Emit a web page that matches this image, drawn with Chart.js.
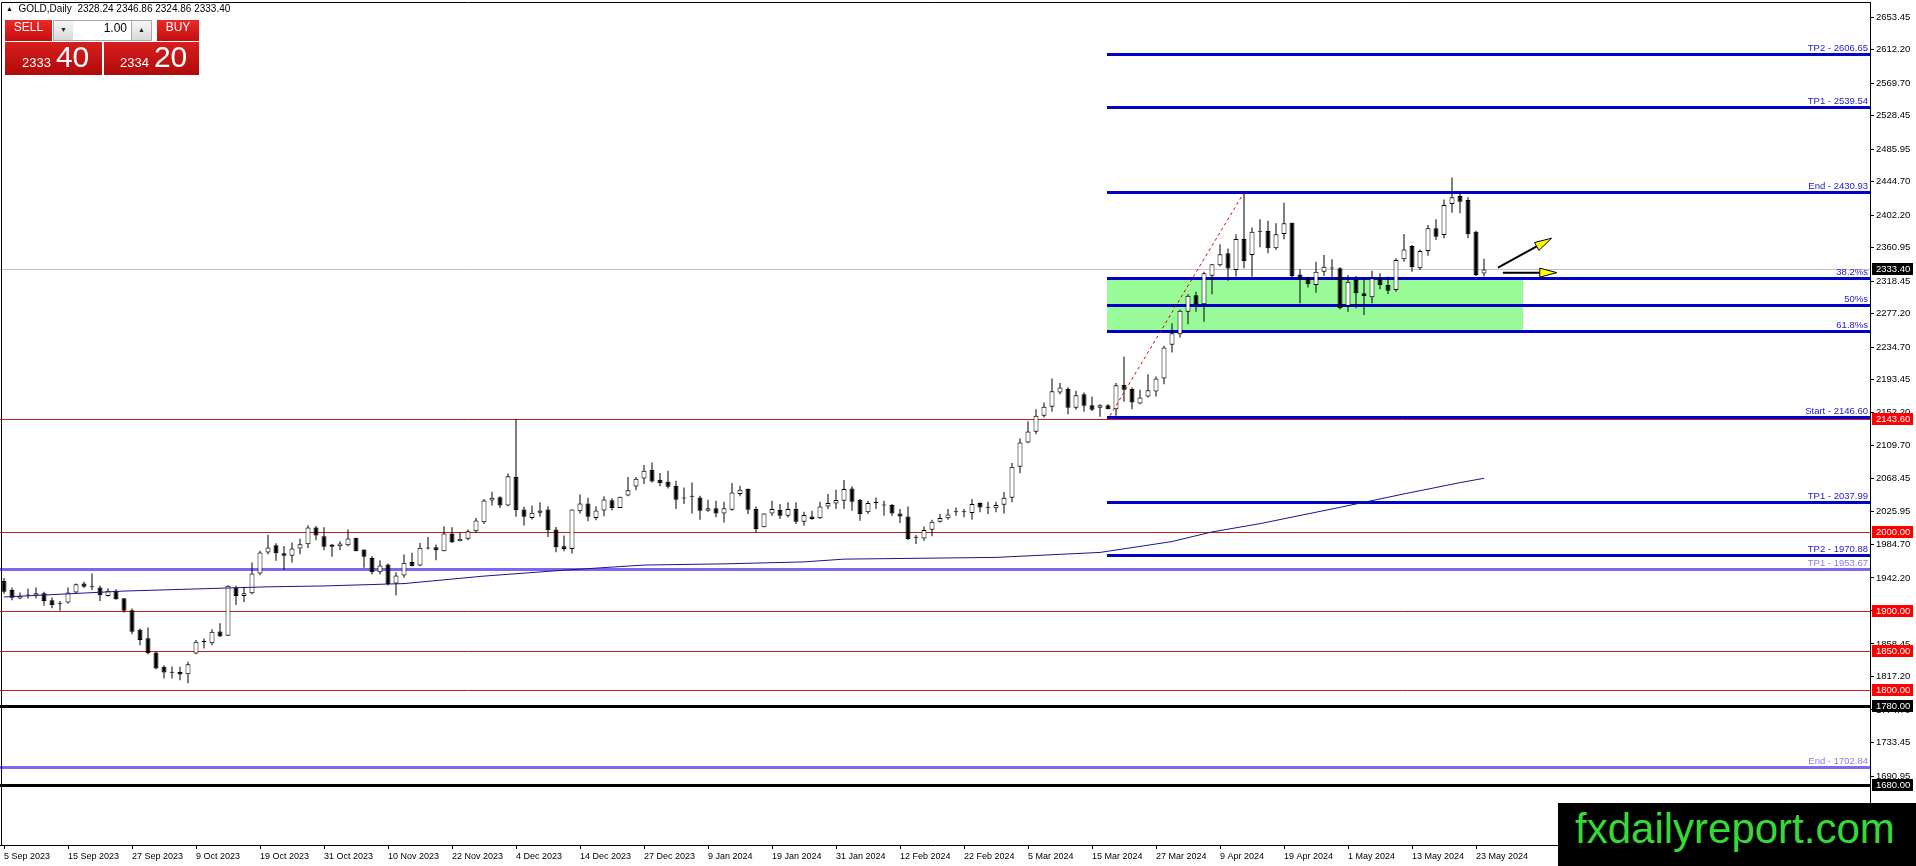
<!DOCTYPE html>
<html>
<head>
<meta charset="utf-8">
<script src="https://cdn.jsdelivr.net/npm/chart.js@4.4.1/dist/chart.umd.min.js"></script>
<style>
html, body { margin: 0; padding: 0; background: #fff; overflow: hidden; }
#wrap { position: relative; width: 1916px; height: 866px; }
#wrap canvas { position: absolute; left: 0; top: 0; }
.title { position: absolute; left: 6px; top: 3px; font: 10px "Liberation Sans", Arial, sans-serif; color: #000; white-space: pre; }
.title .tri { font-size: 7px; vertical-align: 1px; }
.btn { position: absolute; top: 20px; height: 21px; line-height: 21px; text-align: center; color: #fff;
  font: 12px "Liberation Sans", Arial, sans-serif; background: linear-gradient(#ea2a2a, #c50d0d); }
.spin { position: absolute; top: 20px; width: 19px; height: 19px; line-height: 19px; text-align: center; font-size: 7px;
  color: #222; background: linear-gradient(#f6f6f6, #d9d9d9); border: 1px solid #a8a8a8; box-sizing: content-box; }
.qty { position: absolute; left: 73px; top: 20px; width: 54px; height: 19px; line-height: 19px; padding-right: 5px; text-align: right;
  font: 12px "Liberation Sans", Arial, sans-serif; background: #fff; border-top: 1px solid #a8a8a8; border-bottom: 1px solid #a8a8a8; }
.big { position: absolute; top: 42px; height: 33px; display: flex; align-items: baseline; box-sizing: border-box;
  color: #fff; font-family: "Liberation Sans", Arial, sans-serif; background: linear-gradient(#d81e1e, #b00a0a); }
.big .s { font-size: 13px; line-height: 1; }
.big .b { font-size: 30px; line-height: 1; margin-left: 5px; }
.mark { position: absolute; left: 1558px; top: 803px; width: 358px; height: 63px; background: #000; box-sizing: border-box;
  padding-left: 17px; color: #36d936; font: 42px/51px "Liberation Sans", Arial, sans-serif; }
</style>
</head>
<body>
<div id="wrap">
  <canvas id="chart"></canvas>
  <div class="title"><span class="tri">▲</span>  GOLD,Daily  2328.24 2346.86 2324.86 2333.40</div>
  <div class="btn" style="left:5px;width:47px">SELL</div>
  <div class="spin" style="left:53px">▼</div>
  <div class="qty">1.00</div>
  <div class="spin" style="left:131px">▲</div>
  <div class="btn" style="left:157px;width:42px">BUY</div>
  <div class="big" style="left:5px;width:97px;padding-left:17px"><span class="s">2333</span><span class="b">40</span></div>
  <div class="big" style="left:104px;width:95px;padding-left:16px"><span class="s">2334</span><span class="b">20</span></div>
  <div class="mark">fxdailyreport.com</div>
</div>
<script>
// daily bars, 5 Sep 2023 .. 24 May 2024
var opens = [
  1938.5,1927,1916,1920,1919.5,1922.8,1914,1909.5,1911,1923.7,
  1935,1931,1930,1919.4,1925.8,1916.5,1901.3,1876.3,1865.8,1847.6,
  1829.4,1821.8,1823,1820.1,1846.3,1861,1859.4,1874.2,1868.7,1930,
  1919.4,1922.8,1947.8,1974.4,1983.7,1973.5,1970.2,1979.5,1985,2006,
  1995.1,1984.5,1982.4,1983.7,1993,1978.2,1967.6,1949.4,1959.1,1935.1,
  1945.2,1962.5,1957.9,1979.5,1981.2,1976.1,1998.5,1988.8,1991.7,2001.4,
  2012.8,2040.3,2044.5,2034,2070.3,2028.9,2018.3,2024.7,2028.9,2003.5,
  1982.4,1979,2026.8,2036.5,2018.3,2027.6,2040.8,2031,2046.7,2058,
  2068.4,2079.4,2066.7,2064.2,2059.1,2043,2045,2044.3,2027.4,2030.4,
  2024,2028.7,2048.5,2054.9,2029.5,2006.3,2024,2028.3,2021.1,2029.5,
  2013.5,2020.2,2017.7,2032.9,2036.7,2040.1,2055.7,2041.4,2025.3,2037.1,
  2034.6,2034.6,2024,2020.2,1993.6,1992.3,2003.3,2013.5,2017.7,2025.3,
  2025.3,2024.4,2037.1,2031.6,2030.4,2035,2044,2083,2114,2127.4,
  2147.7,2159.1,2177.3,2181.6,2157.9,2175.2,2161.3,2157.9,2161.3,2156.2,
  2187.1,2181.6,2163.4,2172.3,2178.6,2195,2237.8,2251.3,2279.6,2300.7,
  2289.3,2325.3,2338.8,2354,2332.6,2372,2351.7,2381,2382.1,2360.1,
  2378.3,2392.6,2327.1,2322.1,2313.6,2330.5,2334.8,2334.8,2287,2320,
  2303.1,2298,2322.1,2313.6,2307.3,2346.2,2363.1,2334.8,2356.7,2385.5,
  2377,2416.4,2426.5,2421.4,2381.2,2328.24
];
var highs = [
  1942,1930,1923.7,1928.7,1930,1924.5,1917.3,1913,1930,1935,
  1937.2,1947.8,1932.1,1929.2,1927.9,1916.5,1903.4,1878,1879.3,1848.4,
  1831.5,1829.8,1829.4,1835.8,1863.6,1865.3,1877.2,1884.8,1933,1932.1,
  1930.9,1961.7,1976.5,1997,1986.2,1982.8,1987.1,1992,2009,2008,
  2006.5,1985,1988.8,2003.5,1993,1978.2,1969.7,1964.6,1960.4,1949.4,
  1971.8,1974,1986.6,1994.2,1984.5,2007.8,2006.5,1999.3,2003.5,2018.3,
  2042.4,2051.3,2045.8,2074.6,2143.6,2032.3,2034,2038.2,2033.2,2006.9,
  1995.9,2028.9,2048,2043.7,2033.2,2045.8,2043.3,2045,2070.3,2070.3,
  2085.3,2088.7,2075.2,2078.1,2065.4,2057,2063.3,2046.4,2041.4,2040.1,
  2038.8,2062.5,2059.1,2055.7,2032.9,2024,2040.1,2035.9,2038,2038,
  2026.1,2027.4,2038.8,2048.5,2054,2066.3,2058.3,2042.2,2040.1,2044.3,
  2040.1,2035.9,2029.5,2032.9,1996.5,2007.5,2016,2023.2,2029.5,2031.6,
  2029.5,2042.2,2037.9,2038.8,2038.8,2051,2088,2119,2141,2156.2,
  2164.6,2195,2189.2,2183.7,2179.4,2177.3,2172.3,2162.5,2162.5,2189.2,
  2223,2183.7,2180.7,2200.6,2197.6,2236.5,2265.2,2282.2,2302,2305,
  2330.3,2340.1,2365.4,2360,2378,2430.93,2386.7,2396.9,2395.2,2391.8,
  2418,2392.6,2333.5,2324.2,2343.2,2351.7,2346.2,2336,2326.3,2325,
  2320,2331.8,2328.4,2324.2,2347.4,2378.3,2364.4,2358.8,2389.7,2396.9,
  2422.2,2450.1,2432,2424.8,2382.5,2346.86
];
var lows = [
  1922,1914,1915,1916,1916,1906.8,1903.8,1900.4,1909.7,1922.8,
  1929.6,1927,1913,1918.6,1914.4,1898.3,1870.8,1856.9,1845.5,1826.4,
  1814.6,1814.6,1812.5,1808.7,1845.5,1852.7,1856.9,1867.5,1868.7,1908,
  1911.8,1921.5,1945.6,1972.3,1963.8,1952.4,1961.7,1972.3,1980,1990,
  1977.3,1968.9,1977.3,1982.4,1976.1,1955,1946.5,1946.5,1932.5,1919.8,
  1942.3,1957.1,1957.1,1978.2,1964.6,1976.1,1986.6,1988.8,1990,1999.3,
  2010.7,2034,2031,2033.2,2019.6,2008.6,2016.2,2019.6,1994.2,1974.8,
  1976.1,1973.1,2023.8,2014.1,2015.4,2020.5,2027.6,2031,2045.8,2053.4,
  2061.2,2063.3,2058.3,2055.7,2029.5,2035.9,2024,2016,2026.1,2019,
  2012.6,2027.4,2045.6,2023.2,1999.9,2006.3,2021.1,2016.8,2018.9,2010.5,
  2008.4,2016,2016.8,2029.5,2029.5,2029.5,2027.4,2014.7,2023.2,2029.5,
  2021.1,2021.1,2011.8,1990.6,1985.1,1989.4,1994.9,2012.6,2016,2021.1,
  2019,2016,2025.3,2023.2,2025.3,2024,2038,2075,2113,2124.5,
  2145.6,2152.8,2175.2,2149.8,2155.3,2152.8,2154,2146.6,2156.2,2147.7,
  2165.5,2156.2,2162.5,2171,2172.3,2187.9,2228,2247.1,2264,2279.6,
  2266.9,2302,2337.1,2318.9,2324.4,2335,2324.2,2361.4,2353.8,2358,
  2371.5,2323,2290.4,2310.6,2303.9,2325,2320.8,2283,2279.8,2284.1,
  2275.6,2290.4,2308.1,2302.2,2305.2,2343.2,2330.5,2332.6,2350.8,2370.7,
  2372.8,2405.3,2404.5,2372.8,2325,2324.86
];
var closes = [
  1924.5,1917,1919.5,1920.5,1922.8,1913,1908,1910,1923.7,1934.2,
  1930.9,1930.5,1920.3,1925.8,1915.2,1900.4,1873.8,1863.6,1846.7,1827.3,
  1822.2,1822,1819.7,1832.8,1861.1,1861.5,1873.8,1867.9,1932.1,1919.4,
  1922.8,1947.8,1974.4,1980.7,1973.5,1970.2,1979.5,1985,2006,1996,
  1981.6,1981.6,1985.8,1992.1,1976.1,1968.9,1949.4,1957.9,1934.6,1945.2,
  1961.3,1957.1,1980.3,1979.9,1977.3,1998.5,1987.5,1991.7,2001.4,2015,
  2040.3,2043.7,2034,2071.2,2028.1,2019.6,2024.7,2027.6,2002.7,1981.2,
  1979,2028.9,2036.5,2019.6,2027.6,2041.6,2031,2045,2053.4,2067.8,
  2078.1,2064.6,2062.1,2057.8,2041.4,2043.2,2045.3,2027.4,2030.4,2024,
  2030.4,2050.6,2054,2028.7,2004.1,2024,2029.5,2021.1,2029.5,2013.5,
  2021.9,2016.8,2032.9,2037.1,2040.9,2054.9,2038.8,2023.2,2037.1,2037.5,
  2034.1,2024,2020.2,1991.5,1993.2,2002.9,2013.5,2018.1,2022.7,2025.7,
  2025.7,2035.9,2031.6,2031.2,2034.6,2044,2083,2114,2128,2147.7,
  2159.1,2179,2183.7,2157.9,2173.9,2160.4,2155.3,2161.3,2156.2,2186.6,
  2180.7,2164.6,2171,2180.3,2195,2234.4,2252.5,2280.9,2299.9,2289.3,
  2328.6,2340.1,2352.7,2334.6,2372,2344,2381.2,2381.4,2360.1,2377.9,
  2391.8,2325,2320.8,2314.5,2330.5,2336.9,2334.4,2284.1,2317.9,2303.1,
  2299.7,2322.1,2313.6,2306.4,2345.3,2358.8,2336,2356.7,2385.5,2374.9,
  2415.1,2424.8,2419.3,2377.9,2326.3,2333.40
];

// moving average, read at a few bars
var maBars   = [0, 15, 25, 33, 40, 50, 60, 70, 80, 90, 100, 105, 124, 137, 146, 151, 157, 167, 175, 182, 185];
var maValues = [1918, 1925.5, 1928.5, 1930.9, 1932, 1935, 1944.5, 1952, 1958.5, 1960, 1962.5, 1966, 1968.2, 1974.5, 1988.3, 2000.5, 2011, 2031.7, 2048.7, 2063, 2068.5];

var tickDates = ['5 Sep 2023','15 Sep 2023','27 Sep 2023','9 Oct 2023','19 Oct 2023','31 Oct 2023','10 Nov 2023',
  '22 Nov 2023','4 Dec 2023','14 Dec 2023','27 Dec 2023','9 Jan 2024','19 Jan 2024','31 Jan 2024','12 Feb 2024',
  '22 Feb 2024','5 Mar 2024','15 Mar 2024','27 Mar 2024','9 Apr 2024','19 Apr 2024','1 May 2024','13 May 2024','23 May 2024'];
var priceTicks = [2653.45,2612.20,2569.70,2528.45,2485.95,2444.70,2402.20,2360.95,2318.45,2277.20,2234.70,2193.45,
  2152.20,2109.70,2068.45,2025.95,1984.70,1942.20,1900.95,1858.45,1817.20,1774.70,1733.45,1690.95];

// drawn levels
var planNames  = ['TP2', 'TP1', 'End', 'Start', 'TP1', 'TP2'];
var planLevels = [2606.65, 2539.54, 2430.93, 2146.60, 2037.99, 1970.88];
var fibNames   = ['38.2%s', '50%s', '61.8%s'];
var fibRatios  = [0.382, 0.5, 0.618];
var oldNames   = ['TP1', 'End'];
var oldLevels  = [1953.67, 1702.84];
var redLevels  = [2143.60, 2000.00, 1900.00, 1850.00, 1800.00];
var blackLevels = [1780.00, 1680.00];
var lastPrice  = 2333.40;

var planFromBar = 137.875, zoneToBar = 189.875;
var swing = { fromBar: 138.25, fromPrice: 2148, toBar: 155, toPrice: 2430.93 };
var arrows = [
  { x0: 186.75, y0: 2335.6, x1: 193.45, y1: 2372.9 },
  { x0: 187.35, y0: 2329.3, x1: 194.1, y1: 2329.3 }
];

var fibEnd = planLevels[2], fibStart = planLevels[3];
var fibLevels = fibRatios.map(function (r) { return fibEnd - r * (fibEnd - fibStart); });

var FONT = '"Liberation Sans", Arial, sans-serif';

function hline(ctx, x0, x1, py, color, w) {
  ctx.strokeStyle = color;
  ctx.lineWidth = w;
  var yy = w % 2 === 1 ? Math.round(py) + 0.5 : Math.round(py);
  ctx.beginPath();
  ctx.moveTo(x0, yy);
  ctx.lineTo(x1, yy);
  ctx.stroke();
}

function priceBox(ctx, a, py, bg, text) {
  ctx.fillStyle = bg;
  ctx.fillRect(a.right + 2, Math.round(py) - 6, 41, 12);
  ctx.fillStyle = '#fff';
  ctx.font = '9.5px ' + FONT;
  ctx.textAlign = 'left';
  ctx.textBaseline = 'middle';
  ctx.fillText(text, a.right + 6, Math.round(py) + 0.5);
}

function noPad(s) {
  s.paddingTop = 0; s.paddingBottom = 0; s.paddingLeft = 0; s.paddingRight = 0;
}

var levels = {
  id: 'levels',
  beforeDatasetsDraw: function (chart) {
    var ctx = chart.ctx, a = chart.chartArea, x = chart.scales.x, y = chart.scales.y;
    ctx.save();
    ctx.beginPath();
    ctx.rect(a.left, a.top, a.right - a.left, a.bottom - a.top);
    ctx.clip();

    var zx0 = x.getPixelForValue(planFromBar), zx1 = x.getPixelForValue(zoneToBar);
    var zy0 = y.getPixelForValue(fibLevels[0]), zy1 = y.getPixelForValue(fibLevels[2]);
    ctx.fillStyle = '#98fb98';
    ctx.fillRect(zx0, zy0, zx1 - zx0, zy1 - zy0);

    hline(ctx, a.left, a.right, y.getPixelForValue(lastPrice), '#c0c0c0', 1);
    redLevels.forEach(function (p) { hline(ctx, a.left, a.right, y.getPixelForValue(p), '#c81c1c', 1); });
    blackLevels.forEach(function (p) { hline(ctx, a.left, a.right, y.getPixelForValue(p), '#000', 3); });
    oldLevels.forEach(function (p) { hline(ctx, a.left, a.right, y.getPixelForValue(p), '#7b68ee', 3); });
    planLevels.concat(fibLevels).forEach(function (p) {
      hline(ctx, zx0, a.right, y.getPixelForValue(p), '#0000c8', 3);
    });
    ctx.restore();
  },
  afterDatasetsDraw: function (chart) {
    var ctx = chart.ctx, a = chart.chartArea, x = chart.scales.x, y = chart.scales.y;
    ctx.save();
    ctx.font = '9.5px ' + FONT;
    ctx.textAlign = 'right';
    ctx.textBaseline = 'alphabetic';
    ctx.fillStyle = '#1c1cc8';
    planLevels.forEach(function (p, i) {
      ctx.fillText(planNames[i] + ' - ' + p.toFixed(2), a.right - 2, y.getPixelForValue(p) - 3);
    });
    fibLevels.forEach(function (p, i) {
      ctx.fillText(fibNames[i], a.right - 2, y.getPixelForValue(p) - 3);
    });
    ctx.fillStyle = '#8a7ee6';
    oldLevels.forEach(function (p, i) {
      ctx.fillText(oldNames[i] + ' - ' + p.toFixed(2), a.right - 2, y.getPixelForValue(p) - 3);
    });

    // swing line
    ctx.strokeStyle = '#e00000';
    ctx.lineWidth = 1;
    ctx.setLineDash([3, 3]);
    ctx.beginPath();
    ctx.moveTo(x.getPixelForValue(swing.fromBar), y.getPixelForValue(swing.fromPrice));
    ctx.lineTo(x.getPixelForValue(swing.toBar), y.getPixelForValue(swing.toPrice));
    ctx.stroke();
    ctx.setLineDash([]);

    // arrows
    arrows.forEach(function (ar) {
      var px0 = x.getPixelForValue(ar.x0), py0 = y.getPixelForValue(ar.y0);
      var px1 = x.getPixelForValue(ar.x1), py1 = y.getPixelForValue(ar.y1);
      var ang = Math.atan2(py1 - py0, px1 - px0);
      var len = 17, half = 4.5;
      var bx = px1 - len * Math.cos(ang), by = py1 - len * Math.sin(ang);
      ctx.strokeStyle = '#000';
      ctx.lineWidth = 2;
      ctx.beginPath();
      ctx.moveTo(px0, py0);
      ctx.lineTo(bx, by);
      ctx.stroke();
      ctx.beginPath();
      ctx.moveTo(px1, py1);
      ctx.lineTo(bx + half * Math.sin(ang), by - half * Math.cos(ang));
      ctx.lineTo(bx - half * Math.sin(ang), by + half * Math.cos(ang));
      ctx.closePath();
      ctx.fillStyle = '#ffff00';
      ctx.fill();
      ctx.lineWidth = 1;
      ctx.stroke();
    });
    ctx.restore();
  },
  afterDraw: function (chart) {
    var ctx = chart.ctx, a = chart.chartArea, y = chart.scales.y;
    ctx.save();
    ctx.strokeStyle = '#000';
    ctx.lineWidth = 1;
    ctx.beginPath();
    ctx.moveTo(1.5, a.bottom);
    ctx.lineTo(1.5, a.top + 0.5);
    ctx.lineTo(a.right, a.top + 0.5);
    ctx.stroke();
    redLevels.forEach(function (p) { priceBox(ctx, a, y.getPixelForValue(p), '#ff0000', p.toFixed(2)); });
    blackLevels.forEach(function (p) { priceBox(ctx, a, y.getPixelForValue(p), '#000', p.toFixed(2)); });
    priceBox(ctx, a, y.getPixelForValue(lastPrice), '#000', lastPrice.toFixed(2));
    ctx.restore();
  }
};

var bodyColors = opens.map(function (o, i) { return closes[i] >= o ? '#ffffff' : '#000000'; });

new Chart(document.getElementById('chart'), {
  type: 'bar',
  data: {
    datasets: [
      {
        type: 'line',
        data: maBars.map(function (b, k) { return { x: b, y: maValues[k] }; }),
        borderColor: '#16168e',
        borderWidth: 1,
        pointRadius: 0,
        tension: 0,
        order: 0
      },
      {
        data: opens.map(function (o, i) { return { x: i, y: [o, closes[i]] }; }),
        backgroundColor: bodyColors,
        borderColor: '#000',
        borderWidth: 1,
        borderSkipped: false,
        barThickness: 5,
        minBarLength: 1,
        inflateAmount: 0,
        grouped: false,
        order: 1
      },
      {
        data: highs.map(function (h, i) { return { x: i, y: [lows[i], h] }; }),
        backgroundColor: '#000',
        borderWidth: 0,
        barThickness: 1,
        inflateAmount: 0,
        grouped: false,
        order: 2
      }
    ]
  },
  options: {
    responsive: true,
    maintainAspectRatio: false,
    animation: false,
    layout: { padding: { top: 2, left: 0, right: 0, bottom: 0 } },
    plugins: { legend: { display: false }, tooltip: { enabled: false } },
    scales: {
      x: {
        type: 'linear',
        min: -0.5,
        max: 233.25,
        offset: false,
        grid: { display: true, drawOnChartArea: false, tickLength: 4, color: '#000', offset: false },
        border: { display: true, color: '#000', width: 1 },
        ticks: {
          autoSkip: false,
          maxRotation: 0,
          align: 'start',
          padding: 2,
          color: '#000',
          font: { family: FONT, size: 9 },
          callback: function (v) { return tickDates[Math.round(v / 8)] || ''; }
        },
        afterBuildTicks: function (s) { s.ticks = tickDates.map(function (d, k) { return { value: k * 8 }; }); },
        afterFit: function (s) { s.height = 21; noPad(s); }
      },
      y: {
        position: 'right',
        min: 1603.5,
        max: 2672.5,
        grid: { display: true, drawOnChartArea: false, tickLength: 4, color: '#000' },
        border: { display: true, color: '#000', width: 1 },
        ticks: {
          autoSkip: false,
          padding: 2,
          color: '#000',
          font: { family: FONT, size: 9.5 },
          callback: function (v) { return Number(v).toFixed(2); }
        },
        afterBuildTicks: function (s) { s.ticks = priceTicks.map(function (v) { return { value: v }; }); },
        afterFit: function (s) { s.width = 46; noPad(s); }
      }
    }
  },
  plugins: [levels]
});
</script>
</body>
</html>
